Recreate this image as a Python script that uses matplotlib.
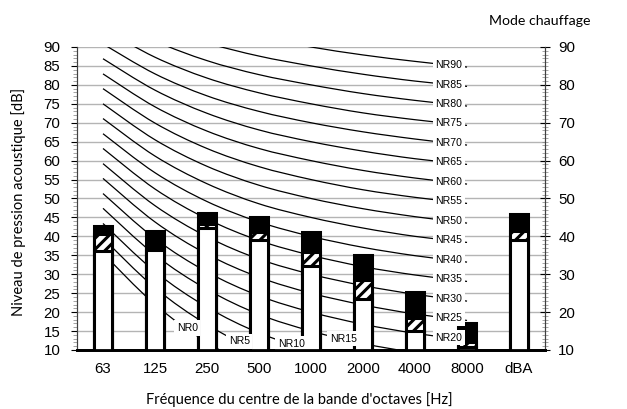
import matplotlib
matplotlib.use("Agg")
import matplotlib.pyplot as plt
import numpy as np
from matplotlib.path import Path
from matplotlib.patches import PathPatch
from matplotlib.ticker import MultipleLocator

# categories on the x axis
bands = ["63", "125", "250", "500", "1000", "2000", "4000", "8000", "dBA"]

# bar levels (dB)
level_white = [36.1, 36.4, 42.3, 39.0, 32.1, 23.4, 14.9, 10.8, 39.0]
level_hatch = [40.6, 37.0, 43.3, 41.1, 36.0, 28.5, 18.4, 12.2, 41.3]
level_black = [42.8, 41.5, 46.3, 45.0, 41.1, 35.0, 25.3, 17.1, 45.9]

# NR curves, values at 63 ... 8000 Hz
nr_names = ["NR0", "NR5", "NR10", "NR15", "NR20", "NR25", "NR30", "NR35", "NR40",
            "NR45", "NR50", "NR55", "NR60", "NR65", "NR70", "NR75", "NR80", "NR85", "NR90"]
nr_values = [
    [35.5, 22.0, 12.0, 4.8, 0.0, -3.5, -6.1, -8.0],
    [39.5, 26.4, 16.7, 9.7, 5.0, 1.6, -1.0, -2.9],
    [43.4, 30.7, 21.3, 14.5, 10.0, 6.7, 4.2, 2.3],
    [47.4, 35.1, 26.0, 19.4, 15.0, 11.7, 9.3, 7.5],
    [51.3, 39.4, 30.6, 24.3, 20.0, 16.8, 14.4, 12.6],
    [55.3, 43.8, 35.3, 29.2, 25.0, 21.9, 19.5, 17.8],
    [59.2, 48.1, 39.9, 34.0, 30.0, 27.0, 24.7, 22.9],
    [63.2, 52.5, 44.6, 38.9, 35.0, 32.0, 29.8, 28.1],
    [67.1, 56.8, 49.2, 43.8, 40.0, 37.1, 34.9, 33.2],
    [71.1, 61.2, 53.9, 48.6, 45.0, 42.2, 40.0, 38.4],
    [75.0, 65.5, 58.5, 53.5, 50.0, 47.3, 45.2, 43.5],
    [79.0, 69.9, 63.2, 58.4, 55.0, 52.3, 50.3, 48.7],
    [82.9, 74.2, 67.8, 63.2, 60.0, 57.4, 55.4, 53.8],
    [86.9, 78.6, 72.5, 68.1, 65.0, 62.5, 60.5, 59.0],
    [90.8, 82.9, 77.1, 73.0, 70.0, 67.6, 65.7, 64.1],
    [94.8, 87.3, 81.8, 77.9, 75.0, 72.6, 70.8, 69.3],
    [98.7, 91.6, 86.4, 82.7, 80.0, 77.7, 75.9, 74.4],
    [102.7, 96.0, 91.1, 87.6, 85.0, 82.8, 81.0, 79.6],
    [106.6, 100.3, 95.7, 92.5, 90.0, 87.9, 86.2, 84.7],
]

# where each NR label sits along the x axis (category index)
label_x = [1.62, 2.62, 3.62, 4.62] + [6.65] * 15

plt.rcParams["hatch.linewidth"] = 2.2
tick_font = "Liberation Sans"
text_font = "Lato"


def smooth_path(xs, ys):
    # cubic bezier through the points, like a spreadsheet "smoothed line"
    pts = np.column_stack([xs, ys]).astype(float)
    ext = np.vstack([pts[0], pts, pts[-1]])
    verts = [pts[0]]
    codes = [Path.MOVETO]
    for i in range(len(pts) - 1):
        p0, p1, p2, p3 = ext[i], ext[i + 1], ext[i + 2], ext[i + 3]
        verts += [p1 + (p2 - p0) / 6, p2 - (p3 - p1) / 6, p2]
        codes += [Path.CURVE4] * 3
    return Path(verts, codes)


fig = plt.figure(figsize=(6.27, 4.09), dpi=100)
ax = fig.add_axes([0.1228, 0.1443, 0.7465, 0.7408])

x = np.arange(len(bands))
xc = np.arange(len(nr_values[0]))

# grid
for yy in range(10, 91, 5):
    ax.axhline(yy, color="#b4b4b4", lw=1.0, zorder=0)

# NR curves
for vals in nr_values:
    ax.add_patch(PathPatch(smooth_path(xc, vals), fill=False, edgecolor="black",
                           lw=0.9, zorder=1))

# bars: black top, hatched band, white base
bw = 0.36
ax.bar(x, level_black, width=bw, color="black", edgecolor="black", lw=2.2, zorder=2)
ax.bar(x, level_hatch, width=bw, color="white", edgecolor="black", hatch="///", lw=2.2, zorder=3)
ax.bar(x, level_white, width=bw, color="white", edgecolor="black", lw=2.2, zorder=4)

# NR labels
for name, vals, lx in zip(nr_names, nr_values, label_x):
    ly = np.interp(lx, xc, vals)
    ax.text(lx, ly, name, ha="center", va="center", fontsize=7.6,
            family=tick_font, zorder=6,
            bbox=dict(facecolor="white", edgecolor="none", pad=1.8))

ax.set_xlim(-0.5, 8.5)
ax.set_ylim(10, 90)
ax.set_xticks(x)
ax.set_xticklabels(bands, fontsize=10.8, family=tick_font)
ax.tick_params(axis="x", length=0, pad=9)

ax.yaxis.set_major_locator(MultipleLocator(5))
ax.yaxis.set_minor_locator(MultipleLocator(1))
ax.tick_params(axis="y", which="major", direction="out", length=4, width=0.8,
               labelsize=10.8, pad=8)
ax.tick_params(axis="y", which="minor", direction="out", length=3, width=0.5,
               color="#808080")
for lab in ax.get_yticklabels():
    lab.set_family(tick_font)

ax2 = ax.twinx()
ax2.set_ylim(10, 90)
ax2.yaxis.set_major_locator(MultipleLocator(10))
ax2.yaxis.set_minor_locator(MultipleLocator(1))
ax2.tick_params(axis="y", which="major", direction="inout", length=7, width=0.8,
                labelsize=10.8, pad=6)
ax2.tick_params(axis="y", which="minor", direction="inout", length=5, width=0.5,
                color="#808080")
for lab in ax2.get_yticklabels():
    lab.set_family(tick_font)

for a in (ax, ax2):
    a.spines["top"].set_visible(False)
    a.spines["left"].set_color("#404040")
    a.spines["right"].set_color("#404040")
    a.spines["left"].set_linewidth(0.8)
    a.spines["right"].set_linewidth(0.8)
    a.spines["bottom"].set_linewidth(2.0)
    a.spines["bottom"].set_color("black")

ax.set_xlabel("Fréquence du centre de la bande d'octaves [Hz]", fontsize=10.5,
              family=text_font)
ax.xaxis.set_label_coords(0.475, -0.14)
ax.set_ylabel("Niveau de pression acoustique [dB]", fontsize=10.5,
              family=text_font)
ax.yaxis.set_label_coords(-0.11, 0.49)
fig.text(0.942, 0.948, "Mode chauffage", ha="right", va="center", fontsize=10.2,
         family=text_font)

fig.savefig("out.png", dpi=100)
